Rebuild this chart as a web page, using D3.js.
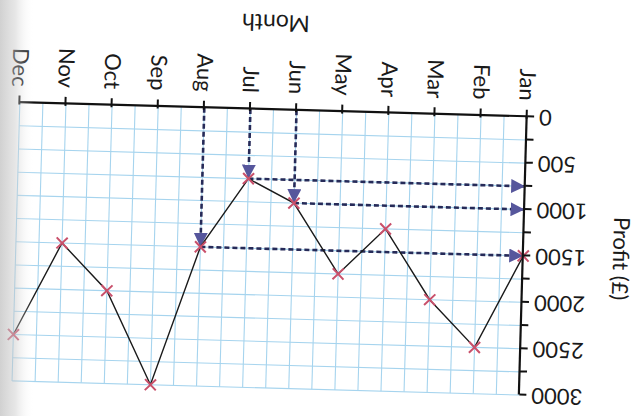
<!DOCTYPE html>
<html><head><meta charset="utf-8">
<script src="https://cdn.jsdelivr.net/npm/d3@7"></script>
<style>html,body{margin:0;padding:0;background:#fff;} svg{display:block;}</style>
</head><body><svg id="chart" width="638" height="416"></svg>
<script>
const months = ["Jan","Feb","Mar","Apr","May","Jun","Jul","Aug","Sep","Oct","Nov","Dec"];
const profit = [1500,2500,2000,1250,1750,1000,750,1500,3000,2000,1500,2500];
const profitTicks = [0,500,1000,1500,2000,2500,3000];
const readOffMonths = ["Jun","Jul","Aug"];
const xTitle = "Month";
const yTitle = "Profit (£)";

const svg = d3.select("#chart");
const FONT = "Lato, 'Open Sans', sans-serif";

const defs = svg.append("defs");
defs.append("marker").attr("id","ah")
  .attr("viewBox","0 0 14 14").attr("refX",14).attr("refY",7)
  .attr("markerWidth",14).attr("markerHeight",14)
  .attr("markerUnits","userSpaceOnUse").attr("orient","auto")
  .append("path").attr("d","M0,0 L14,7 L0,14 Z").attr("fill","#56569c");
const grad = defs.append("linearGradient").attr("id","shade").attr("x1",0).attr("x2",1).attr("y1",0).attr("y2",0);
grad.append("stop").attr("offset",0).attr("stop-color","#bdbdbd").attr("stop-opacity",0.7);
grad.append("stop").attr("offset",0.45).attr("stop-color","#c8c8c8").attr("stop-opacity",0.45);
grad.append("stop").attr("offset",1).attr("stop-color","#ffffff").attr("stop-opacity",0);

// the photographed page is upside-down and slightly tilted
const page = svg.append("g").attr("transform","rotate(181.6,319,208)");

const x = d3.scalePoint().domain(months).range([113.5, 621]);
const y = d3.scaleLinear().domain([0, 3000]).range([305, 26.6]);
const half = x.step() / 2;
const x0 = x(months[0]), xN = x(months[months.length-1]);

// grid
const grid = page.append("g").attr("stroke","#a6d4ee").attr("stroke-width",1.1);
grid.selectAll("line.v").data(d3.range(1, (months.length-1)*2 + 1)).join("line")
  .attr("x1", i => x0 + i*half).attr("x2", i => x0 + i*half)
  .attr("y1", y(0)).attr("y2", y(3000));
grid.selectAll("line.h").data(d3.range(250, 3001, 250)).join("line")
  .attr("x1", x0).attr("x2", xN)
  .attr("y1", d => y(d)).attr("y2", d => y(d));

// read-off dashed arrows
const reads = readOffMonths.map(m => ({m, v: profit[months.indexOf(m)]}));
const dash = page.append("g").attr("stroke","#262a58").attr("stroke-width",2.6)
  .attr("stroke-dasharray","5,3").attr("fill","none");
dash.selectAll("line.vr").data(reads).join("line")
  .attr("x1", d => x(d.m)).attr("x2", d => x(d.m))
  .attr("y1", y(0)).attr("y2", d => y(d.v))
  .attr("marker-end","url(#ah)");
dash.selectAll("line.hr").data(reads).join("line")
  .attr("x1", d => x(d.m)).attr("x2", x0)
  .attr("y1", d => y(d.v)).attr("y2", d => y(d.v))
  .attr("marker-end","url(#ah)");

// data line
const data = months.map((m,i) => ({m, v: profit[i]}));
page.append("path").datum(data)
  .attr("d", d3.line().x(d => x(d.m)).y(d => y(d.v)))
  .attr("fill","none").attr("stroke","#1a1a1a").attr("stroke-width",1.4);

// crosses
const s = 5.5;
page.append("g").selectAll("path").data(data).join("path")
  .attr("d", d => `M${x(d.m)-s},${y(d.v)-s}L${x(d.m)+s},${y(d.v)+s}M${x(d.m)-s},${y(d.v)+s}L${x(d.m)+s},${y(d.v)-s}`)
  .attr("stroke","#c9506b").attr("stroke-width",2).attr("fill","none");

// axes
const xAxis = page.append("g").attr("transform",`translate(0,${y(0)})`)
  .call(d3.axisBottom(x).tickSizeInner(7).tickSizeOuter(0));
xAxis.select(".domain").attr("stroke","#111").attr("stroke-width",2.2);
xAxis.selectAll(".tick line").attr("y1",-2).attr("stroke","#111").attr("stroke-width",2);
xAxis.selectAll(".tick text")
  .attr("transform","rotate(-90)").attr("x",-16).attr("y",0).attr("dy","0.35em")
  .attr("text-anchor","end").attr("font-family",FONT).attr("font-size",22).attr("fill","#1a1a1a");

const yAxis = page.append("g").attr("transform",`translate(${x0},0)`)
  .call(d3.axisLeft(y).tickValues(d3.range(0, 3001, 250)).tickSizeInner(7).tickSizeOuter(0)
    .tickFormat(d => profitTicks.includes(d) ? String(d) : ""));
yAxis.select(".domain").attr("stroke","#111").attr("stroke-width",2.2);
yAxis.selectAll(".tick line").attr("stroke","#111").attr("stroke-width",2);
yAxis.selectAll(".tick text").attr("x",-12)
  .attr("font-family",FONT).attr("font-size",22).attr("fill","#1a1a1a");

page.append("text").attr("x",(x0+xN)/2).attr("y",392).attr("dy","0.35em")
  .attr("text-anchor","middle").attr("font-family",FONT).attr("font-size",23)
  .attr("fill","#1a1a1a").text(xTitle);
page.append("text").attr("transform",`translate(16,${(y(0)+y(3000))/2}) rotate(-90)`)
  .attr("dy","0.35em").attr("text-anchor","middle").attr("font-family",FONT)
  .attr("font-size",22).attr("fill","#1a1a1a").text(yTitle);

// page-curl shadow on the left edge
svg.append("rect").attr("x",0).attr("y",0).attr("width",34).attr("height",416).attr("fill","url(#shade)");
</script></body></html>
